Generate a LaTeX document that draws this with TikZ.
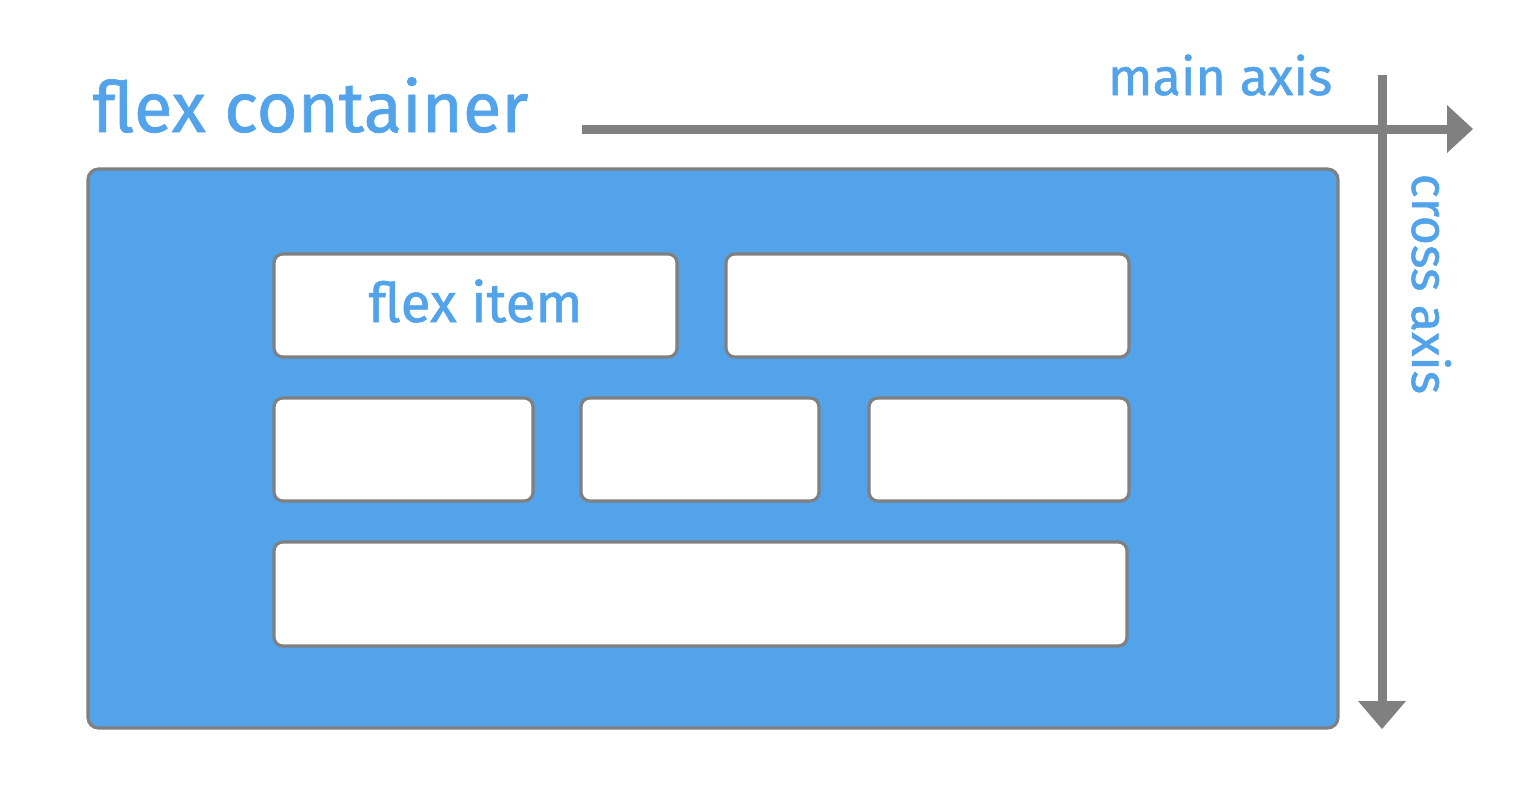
\documentclass[tikz,border=0pt]{standalone}
\usepackage{fontspec}
\setmainfont{Fira Sans}[FakeBold=1]
\definecolor{flexblue}{HTML}{52A3EA}
\definecolor{axisgray}{HTML}{808080}

\begin{document}
\begin{tikzpicture}
\tikzset{
    item/.style={draw=axisgray, line width=0.9pt, fill=white, rounded corners=2.5pt, inner sep=0pt, minimum height=1.03cm},
    axisline/.style={draw=axisgray, line width=0.09cm},
    label/.style={text=flexblue, inner sep=0pt}
}
\useasboundingbox (0,0) rectangle (15.32,7.84);

% Container box
\node[draw=axisgray, line width=0.9pt, fill=flexblue, rounded corners=3pt, inner sep=0pt,
      minimum width=12.5cm, minimum height=5.59cm] (container) at (7.13,3.355) {};
\node[label, anchor=base west, font=\fontsize{20}{24}\selectfont] (title) at (0.92,6.52) {flex container};

% Items, row by row
\node[item, minimum width=4.03cm, text=flexblue, text height=0.33cm, text depth=0pt,
      font=\fontsize{15.6}{18}\selectfont] (item1) at (4.755,4.785) {flex item\hspace{0.14cm}};
\node[item, minimum width=4.03cm] (item2) at (9.275,4.785) {};

\node[item, minimum width=2.59cm] (item3) at (4.035,3.345) {};
\node[item, minimum width=2.38cm] (item4) at (7.00,3.345) {};
\node[item, minimum width=2.60cm] (item5) at (9.99,3.345) {};

\node[item, minimum width=8.53cm, minimum height=1.04cm] (item6) at (7.005,1.90) {};

% Axes (line to the base of the head, then the solid head)
\coordinate (mainstart) at (5.82,6.55);
\coordinate (mainbase) at (14.47,6.55);
\coordinate (mainend) at (14.73,6.55);
\coordinate (crossstart) at (13.82,7.09);
\coordinate (crossbase) at (13.82,0.82);
\coordinate (crossend) at (13.82,0.55);
\draw[axisline] (mainstart) -- (mainbase);
\draw[axisline] (crossstart) -- (crossbase);
\fill[axisgray] (mainend) -- (14.47,6.79) -- (14.47,6.31) -- cycle; % main axis head
\fill[axisgray] (crossend) -- (13.58,0.83) -- (14.06,0.83) -- cycle; % cross axis head

\node[label, anchor=base east, font=\fontsize{14.8}{17}\selectfont] (mainlabel) at (13.33,6.89) {main axis};
\node[label, anchor=base west, rotate=-90, font=\fontsize{14.3}{17}\selectfont] (crosslabel) at (14.12,6.11) {cross axis};

\end{tikzpicture}
\end{document}
